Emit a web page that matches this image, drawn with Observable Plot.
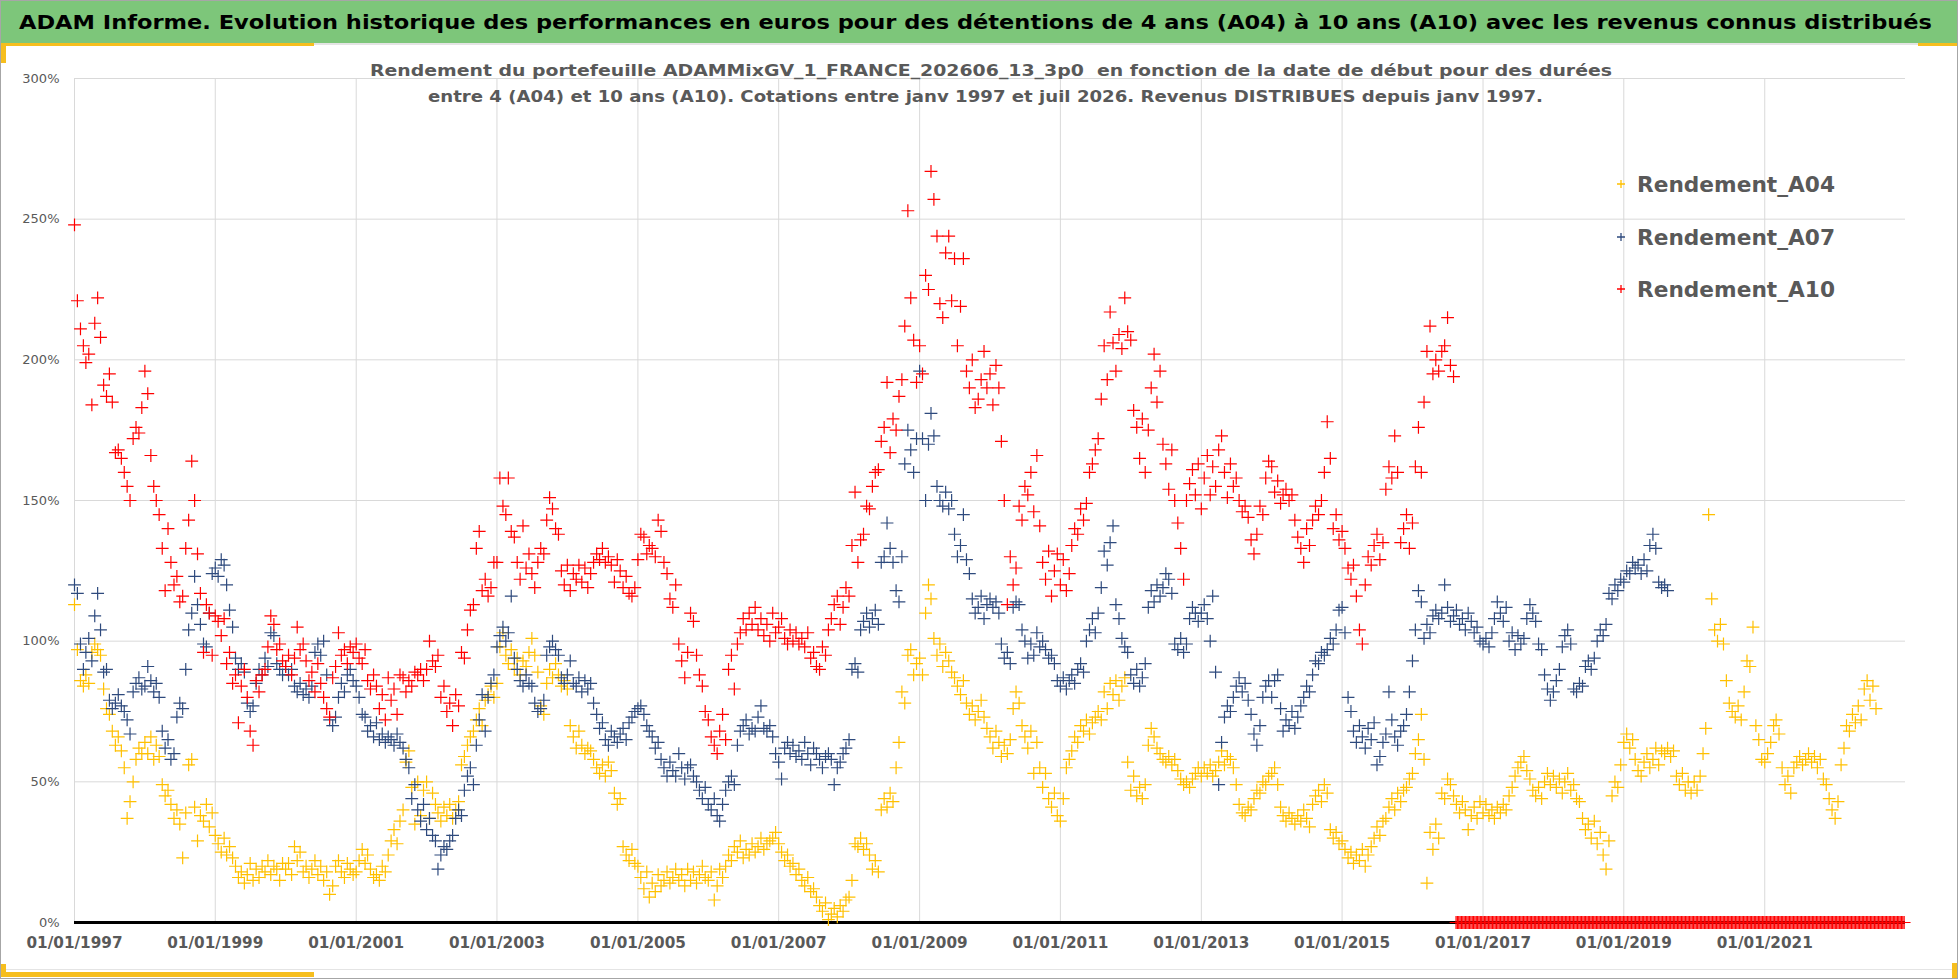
<!DOCTYPE html>
<html><head><meta charset="utf-8">
<script src="https://cdn.jsdelivr.net/npm/d3@7"></script>
<script src="https://cdn.jsdelivr.net/npm/@observablehq/plot@0.6"></script>
<style>
html,body{margin:0;padding:0;background:#fff;overflow:hidden;}
#wrap{position:relative;width:1958px;height:979px;overflow:hidden;background:#fff;}
.deco{position:absolute;}
</style></head><body>
<div id="wrap"></div>
<script>
// ---------------- DATA ----------------
const titleText = "ADAM Informe. Evolution historique des performances en euros pour des détentions de 4 ans (A04) à 10 ans (A10) avec les revenus connus distribués";
const subtitleLines = [
  "Rendement du portefeuille ADAMMixGV_1_FRANCE_202606_13_3p0  en fonction de la date de début pour des durées",
  "entre 4 (A04) et 10 ans (A10). Cotations entre janv 1997 et juil 2026. Revenus DISTRIBUES depuis janv 1997."
];
const seriesNames = ["Rendement_A04", "Rendement_A07", "Rendement_A10"];
const xTickYears = [1997, 1999, 2001, 2003, 2005, 2007, 2009, 2011, 2013, 2015, 2017, 2019, 2021];
const yTickValues = [0, 50, 100, 150, 200, 250, 300];
const firstYear = 1997;

// Semi-monthly readings (1st and 16th of each month), one row per year, in %
const a04Rows = [
  [113,97,86,84,88,85,96,99,97,95,83,76,74,68,63,66,61,55,37,43,50,58,62,60],
  [64,60,66,58,63,59,49,45,47,42,37,40,35,23,39,56,58,41,29,38,36,42,34,39],
  [31,28,25,30,24,27,23,20,16,18,14,17,21,15,19,16,20,18,22,17,20,19,15,21],
  [19,21,17,27,22,25,18,20,16,19,22,17,20,15,18,10,13,20,22,18,16,21,19,17],
  [18,22,26,21,24,19,16,17,15,20,18,24,29,33,28,36,40,57,61,48,35,50,38,47],
  [50,37,46,42,39,36,41,38,42,37,40,43,56,59,63,66,68,72,76,70,79,81,84,80],
  [85,98,103,95,92,97,90,94,88,93,91,96,101,95,89,77,74,85,90,87,92,88,84,86],
  [83,70,66,62,68,63,60,62,61,58,55,53,56,52,57,54,46,42,44,27,24,22,26,21],
  [20,16,12,18,9,14,11,17,13,15,18,14,16,19,15,17,13,19,15,18,14,17,20,16],
  [15,18,8,13,19,16,20,24,22,27,25,29,23,26,24,28,25,27,30,26,28,29,30,32],
  [28,25,22,24,20,21,17,19,15,13,16,11,12,9,6,4,7,1,3,5,2,6,4,8],
  [9,15,28,27,30,26,28,24,19,22,18,40,44,41,46,43,55,64,82,78,95,97,88,92],
  [94,88,110,120,115,101,95,99,91,96,93,89,87,84,81,86,78,74,77,72,75,79,73,69],
  [66,62,68,64,59,63,60,65,76,82,78,70,66,62,68,53,64,55,48,53,44,41,46,38],
  [36,44,55,58,61,66,64,70,68,72,67,71,73,75,72,82,76,85,81,86,79,84,87,57],
  [47,52,45,48,44,49,63,69,66,62,60,58,57,59,56,58,54,51,49,50,48,51,53,55],
  [52,55,53,56,52,54,57,61,56,59,58,55,49,42,39,38,41,40,44,47,46,50,49,52],
  [53,55,49,41,38,36,39,37,35,38,36,40,37,34,42,45,47,43,49,46,33,30,32,28],
  [29,26,23,25,21,24,22,26,20,24,27,30,34,31,36,37,41,44,40,46,43,47,48,51],
  [53,60,65,74,58,14,32,26,35,30,46,44,51,49,45,42,39,43,40,33,38,41,37,43],
  [39,42,38,40,37,41,39,42,40,45,48,52,55,57,59,54,51,47,45,48,44,50,53,49],
  [52,48,51,46,50,53,47,49,44,43,37,33,35,30,36,28,32,24,19,29,45,50,48,56],
  [64,67,62,65,58,54,52,57,60,55,58,62,56,61,60,62,59,61,52,49,53,47,50,46],
  [50,47,52,60,69,145,115,104,100,106,99,86,78,75,73,77,72,82,93,91,105,70,65,58],
  [57,60,64,70,72,67,55,49,52,46,55,57,59,56,58,60,57,59,55,58,51,49,44,40],
  [37,43,56,62,70,68,74,71,77,72,83,86,79,84,76]
];
const a07Rows = [
  [120,117,99,90,96,101,93,109,117,104,89,90,79,76,78,81,77,75,72,67,82,85,87,83],
  [84,91,86,82,85,80,68,62,65,58,60,73,78,76,90,104,110,123,113,106,99,98,110,124],
  [126,123,129,127,120,111,105,94,90,92,89,78,75,77,85,90,88,94,91,103,102,92,90,88],
  [91,88,90,84,82,85,81,83,80,84,96,99,95,100,88,72,70,73,80,85,82,88,90,86],
  [84,80,74,73,68,70,66,71,65,67,64,66,65,63,67,64,62,58,55,44,49,40,36,42],
  [33,37,31,29,19,24,27,26,29,31,37,40,38,47,52,55,49,63,72,81,68,80,85,88],
  [98,102,105,100,103,116,94,90,86,84,88,85,84,78,75,76,79,95,98,100,97,95,87,85],
  [88,93,85,84,87,82,86,83,85,78,74,69,71,65,63,68,66,64,67,69,65,71,73,75],
  [76,77,74,70,68,66,62,64,58,55,52,57,54,52,60,55,51,55,56,52,50,47,44,48],
  [42,40,44,38,36,42,47,50,52,49,63,68,70,72,67,69,68,73,77,69,68,70,66,60],
  [57,51,62,64,60,63,59,61,58,64,60,56,62,60,58,55,59,60,58,49,55,57,60,62],
  [65,90,92,89,104,107,110,105,108,111,106,128,130,142,133,128,118,114,130,163,175,168,160,172],
  [196,172,150,170,181,173,155,150,148,153,147,150,138,130,134,145,129,124,115,110,112,116,108,113],
  [115,112,114,110,99,94,96,92,112,114,113,104,100,94,99,95,103,98,100,97,94,95,92,86],
  [84,87,83,86,88,85,90,92,89,100,104,108,103,110,119,132,127,135,141,113,108,101,98,96],
  [88,85,90,84,87,92,112,118,114,120,116,119,124,122,117,99,97,101,96,99,108,112,110,107],
  [110,113,108,100,116,89,49,64,73,77,75,80,84,87,82,85,79,74,67,63,70,80,84,86],
  [80,86,88,76,68,72,70,75,69,73,77,80,84,82,88,93,92,96,95,97,101,99,104,111],
  [112,103,80,75,68,64,70,66,62,69,65,71,56,59,64,67,82,72,66,63,68,70,74,82],
  [93,104,118,114,101,106,103,109,111,108,110,120,112,107,109,111,106,108,104,110,107,103,105,100],
  [99,101,98,103,108,114,110,107,112,100,103,97,102,99,101,108,113,110,107,99,97,88,83,79],
  [82,86,90,98,102,104,99,83,82,85,84,91,93,90,94,100,104,102,106,117,115,120,118,122],
  [121,125,124,128,126,127,124,129,125,134,138,133,121,119,120,118]
];
const a10Rows = [
  [248,221,211,205,199,202,184,213,222,208,191,187,195,185,167,168,165,160,155,150,172,176,174,183],
  [196,188,166,155,150,145,133,118,140,128,120,123,114,116,133,143,164,150,131,117,96,113,110,95],
  [109,107,102,108,92,96,85,88,71,84,90,80,68,63,86,82,88,90,98,109,106,97,99,93],
  [91,95,88,94,105,97,99,93,86,89,82,92,85,80,76,73,87,91,103,95,97,92,98,96],
  [99,94,92,97,86,83,88,84,76,81,72,87,79,83,74,88,87,82,86,84,89,88,90,86],
  [90,100,93,91,95,80,84,75,78,70,81,77,96,94,104,111,113,133,139,118,122,116,119,128],
  [128,158,148,145,158,139,137,128,122,141,126,131,124,119,128,133,131,143,151,147,140,138,125,120],
  [127,118,124,122,127,121,126,119,124,128,131,129,133,128,130,127,121,129,125,119,123,117,116,119],
  [129,138,137,131,134,133,130,143,139,128,124,115,112,120,99,93,87,96,110,107,95,88,84,75],
  [72,66,63,60,68,74,65,90,95,83,99,103,108,104,110,106,112,104,108,102,106,100,110,103],
  [105,108,101,99,104,100,103,99,101,98,103,94,96,91,90,98,95,104,108,113,116,106,112,119],
  [116,134,153,128,136,138,148,147,155,160,161,171,176,192,167,179,175,187,193,212,253,222,207,192],
  [205,195,230,225,267,257,244,220,215,238,244,221,236,205,219,236,196,190,200,183,186,193,203,190],
  [195,184,198,190,171,150,113,130,120,126,148,143,155,152,160,146,166,141,128,122,132,116,125,131],
  [120,129,118,124,134,140,138,147,143,149,160,163,168,172,186,205,193,217,206,196,209,204,222,210],
  [207,182,176,165,179,160,175,190,202,185,196,170,163,154,168,150,142,133,122,150,156,161,152,163],
  [147,158,166,152,162,155,168,173,160,151,163,155,158,150,146,148,144,136,131,138,148,145,158,164],
  [162,153,157,149,152,154,150,152,143,137,133,128,140,134,143,148,145,150,160,178,165,140,145,136],
  [139,133,126,122,127,116,104,99,120,130,127,134,138,129,135,154,162,158,173,160,135,140,145,133],
  [142,162,176,160,185,203,212,195,200,196,203,205,215,198,194]
];
// A10 reads 0 % for every weekly start date after its last known value
const a10ZeroFrom = "2016-08-08";
const a10ZeroTo = "2023-01-01";
const xDomainEnd = "2023-01-01";

// ---------------- BUILD ----------------
const W = 1958, H = 979;
const colors = ["#FFC000", "#2E4A7D", "#FF0000"];
const utc = (y, m, d) => new Date(Date.UTC(y, m, d));
function toRecords(rows) {
  const out = [];
  rows.forEach((row, i) => row.forEach((v, k) =>
    out.push({date: utc(firstYear + i, Math.floor(k / 2), k % 2 ? 16 : 1), value: v})));
  return out;
}
const dA04 = toRecords(a04Rows);
const dA07 = toRecords(a07Rows);
const dA10 = toRecords(a10Rows);
const dA10zero = d3.utcWeek.range(new Date(a10ZeroFrom), new Date(a10ZeroTo)).map(d => ({date: d, value: 0}));
const xTicks = xTickYears.map(y => utc(y, 0, 1));

const wrap = d3.select("#wrap");
function deco(l, t, w, h, bg, z) {
  return wrap.append("div").attr("class", "deco")
    .style("left", l + "px").style("top", t + "px").style("width", w + "px").style("height", h + "px")
    .style("background", bg).style("z-index", z || 0);
}
// frame decorations
deco(0, 0, W, 43, "#7DC67A");
deco(0, 43, W, 2, "#e4e4e4");
deco(0, 43, 314, 3, "#F6BE1E");
deco(0, 43, 6, 20, "#F6BE1E");
deco(1918, 43, 40, 3, "#F6BE1E");
deco(0, 969, W, 1, "#e4e4e4");
deco(0, 972, 314, 5, "#F6BE1E");
deco(0, 964, 6, 13, "#F6BE1E");
deco(1952, 963, 6, 16, "#F6BE1E");

const dotOpts = (c) => ({x: "date", y: "value", symbol: "plus", r: 4.2, stroke: c, strokeWidth: 1.2});
const chart = Plot.plot({
  width: W, height: H,
  marginLeft: 74, marginRight: 53, marginTop: 78, marginBottom: 57,
  style: {background: "transparent", fontFamily: "DejaVu Sans", overflow: "visible"},
  x: {type: "utc", domain: [utc(firstYear, 0, 1), new Date(xDomainEnd)]},
  y: {domain: [0, 300]},
  marks: [
    Plot.gridY(yTickValues.filter(v => v > 0), {stroke: "#d9d9d9", strokeOpacity: 1, strokeWidth: 1}),
    Plot.gridX(xTicks, {stroke: "#d9d9d9", strokeOpacity: 1, strokeWidth: 1}),
    Plot.axisY(yTickValues, {anchor: "left", tickSize: 0, tickPadding: 15, tickFormat: d => d + "%",
      fontSize: 13, fill: "#595959", label: null}),
    Plot.axisX(xTicks, {anchor: "bottom", tickSize: 0, tickPadding: 15, tickFormat: d3.utcFormat("%d/%m/%Y"),
      fontSize: 15, fontWeight: "bold", fill: "#595959", label: null}),
    Plot.ruleY([0], {stroke: "#000", strokeWidth: 3}),
    Plot.dot(dA04, dotOpts(colors[0])),
    Plot.dot(dA07, dotOpts(colors[1])),
    Plot.dot(dA10, dotOpts(colors[2])),
    Plot.dot(dA10zero, dotOpts(colors[2]))
  ]
});
d3.select(chart).style("position", "absolute").style("left", "0px").style("top", "0px").style("z-index", 1);
d3.select(chart).selectAll("g[aria-label='x-axis tick label'] text")
  .attr("textLength", 96).attr("lengthAdjust", "spacingAndGlyphs");
wrap.node().appendChild(chart);

// overlay texts (title, subtitle, legend)
const ov = wrap.append("svg").attr("width", W).attr("height", H)
  .style("position", "absolute").style("left", "0px").style("top", "0px").style("z-index", 2)
  .attr("font-family", "DejaVu Sans");
ov.append("text").attr("x", 19).attr("y", 29).attr("font-size", 20).attr("font-weight", "bold")
  .attr("fill", "#000").attr("textLength", 1913).attr("lengthAdjust", "spacingAndGlyphs").text(titleText);
const subPos = [{x: 370, y: 76, w: 1242}, {x: 428, y: 102, w: 1115}];
subtitleLines.forEach((s, i) => {
  ov.append("text").attr("x", subPos[i].x).attr("y", subPos[i].y).attr("font-size", 15).attr("font-weight", "bold")
    .attr("fill", "#595959").attr("textLength", subPos[i].w).attr("lengthAdjust", "spacingAndGlyphs")
    .attr("xml:space", "preserve").text(s);
});
const legendY = [184, 237, 289];
seriesNames.forEach((name, i) => {
  const cx = 1621, cy = legendY[i];
  ov.append("path").attr("d", `M${cx - 4},${cy}H${cx + 4}M${cx},${cy - 4}V${cy + 4}`)
    .attr("stroke", colors[i]).attr("stroke-width", 1.3).attr("fill", "none");
  ov.append("text").attr("x", 1637).attr("y", cy + 8).attr("font-size", 22).attr("font-weight", "bold")
    .attr("fill", "#595959").attr("textLength", 198).attr("lengthAdjust", "spacingAndGlyphs").text(name);
});
// outer border
deco(0, 0, W, H, "transparent", 5).style("box-sizing", "border-box").style("border", "1px solid #a6a6a6");
</script></body></html>
